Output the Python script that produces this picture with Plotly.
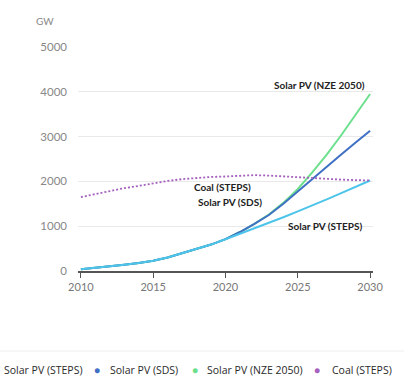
import plotly.graph_objects as go

years = list(range(2010, 2031))
solar_steps = [40, 70, 100, 140, 180, 230, 300, 400, 490, 590, 710,
               830, 950, 1070, 1200, 1330, 1460, 1600, 1740, 1880, 2020]
solar_sds = [40, 70, 100, 140, 180, 230, 300, 400, 490, 590, 710,
             870, 1050, 1250, 1500, 1780, 2050, 2330, 2600, 2870, 3130]
solar_nze = [40, 70, 100, 140, 180, 230, 300, 400, 490, 590, 710,
             870, 1050, 1260, 1520, 1830, 2200, 2600, 3030, 3480, 3950]
coal_steps = [1650, 1720, 1790, 1850, 1900, 1960, 2010, 2050, 2080, 2100, 2110,
              2130, 2140, 2130, 2110, 2090, 2070, 2050, 2040, 2030, 2020]

series_names = ["Solar PV (STEPS)", "Solar PV (SDS)", "Solar PV (NZE 2050)", "Coal (STEPS)"]
colors = ["#4dc4ea", "#3f70c4", "#6de08e", "#a561bd"]
x_ticks = [2010, 2015, 2020, 2025, 2030]
y_ticks = [0, 1000, 2000, 3000, 4000, 5000]

FONT = "Lato"
LFONT = "Open Sans"
fig = go.Figure()
fig.add_trace(go.Scatter(x=years, y=solar_nze, mode="lines", name=series_names[2],
                         line=dict(color=colors[2], width=2), showlegend=False))
fig.add_trace(go.Scatter(x=years, y=solar_sds, mode="lines", name=series_names[1],
                         line=dict(color=colors[1], width=2), showlegend=False))
fig.add_trace(go.Scatter(x=years, y=solar_steps, mode="lines", name=series_names[0],
                         line=dict(color=colors[0], width=2), showlegend=False))
fig.add_trace(go.Scatter(x=years, y=coal_steps, mode="lines", name=series_names[3],
                         line=dict(color=colors[3], width=1.8, dash="2px,2px"), showlegend=False))

# plot domain: x pixels 78..373, y pixels 47..271
L, R, T, B = 78, 31, 47, 113
PW = 404 - L - R
PH = 384 - T - B

def px_x(p):
    return (p - L) / PW

def px_y(p):
    return (384 - B - p) / PH

annotations = []
lab = [
    (series_names[2], 2029.8, 4150, "right"),
    (series_names[3], 2019.76, 1875, "center"),
    (series_names[1], 2020.3, 1540, "center"),
    (series_names[0], 2026.9, 1000, "center"),
]
for t, x, y, a in lab:
    annotations.append(dict(x=x, y=y, xref="x", yref="y", text="<b>" + t + "</b>",
                            showarrow=False, xanchor=a, yanchor="middle",
                            font=dict(family=FONT, size=10, color="#222222")))
annotations.append(dict(x=px_x(34), y=px_y(21), xref="paper", yref="paper", text="GW",
                        showarrow=False, xanchor="left", yanchor="middle",
                        font=dict(family=FONT, size=10, color="#888888")))
leg_pos = [(-9, 2), (97, 108), (195, 205), (317, 330)]
for (mx, tx), name, c in zip(leg_pos, series_names, colors):
    annotations.append(dict(x=px_x(mx), y=px_y(370), xref="paper", yref="paper",
                            text="●", showarrow=False, xanchor="center", yanchor="middle",
                            font=dict(family=FONT, size=10, color=c)))
    annotations.append(dict(x=px_x(tx), y=px_y(370), xref="paper", yref="paper",
                            text=name, showarrow=False, xanchor="left", yanchor="middle",
                            font=dict(family=LFONT, size=10.5, color="#2a2a2a")))

fig.update_layout(
    width=404, height=384,
    margin=dict(l=L, r=R, t=T, b=B),
    paper_bgcolor="white", plot_bgcolor="white",
    showlegend=False,
    annotations=annotations,
    shapes=[dict(type="line", xref="paper", yref="paper", x0=px_x(0), x1=px_x(404),
                 y0=px_y(351), y1=px_y(351), line=dict(color="#eeeeee", width=1))],
    xaxis=dict(range=[2009.8, 2030.2], tickvals=x_ticks, ticks="outside", ticklen=5,
               tickcolor="#555555", showline=True, linecolor="#555555", linewidth=1.5,
               showgrid=False, zeroline=False,
               tickfont=dict(family=FONT, size=11, color="#777777")),
    yaxis=dict(range=[0, 5000], tickvals=y_ticks, showgrid=True, gridcolor="#e9e9e9",
               zeroline=False, showline=False, ticklabelstandoff=10,
               tickfont=dict(family=FONT, size=11.5, color="#888888")),
)
fig.write_html("out.html")
